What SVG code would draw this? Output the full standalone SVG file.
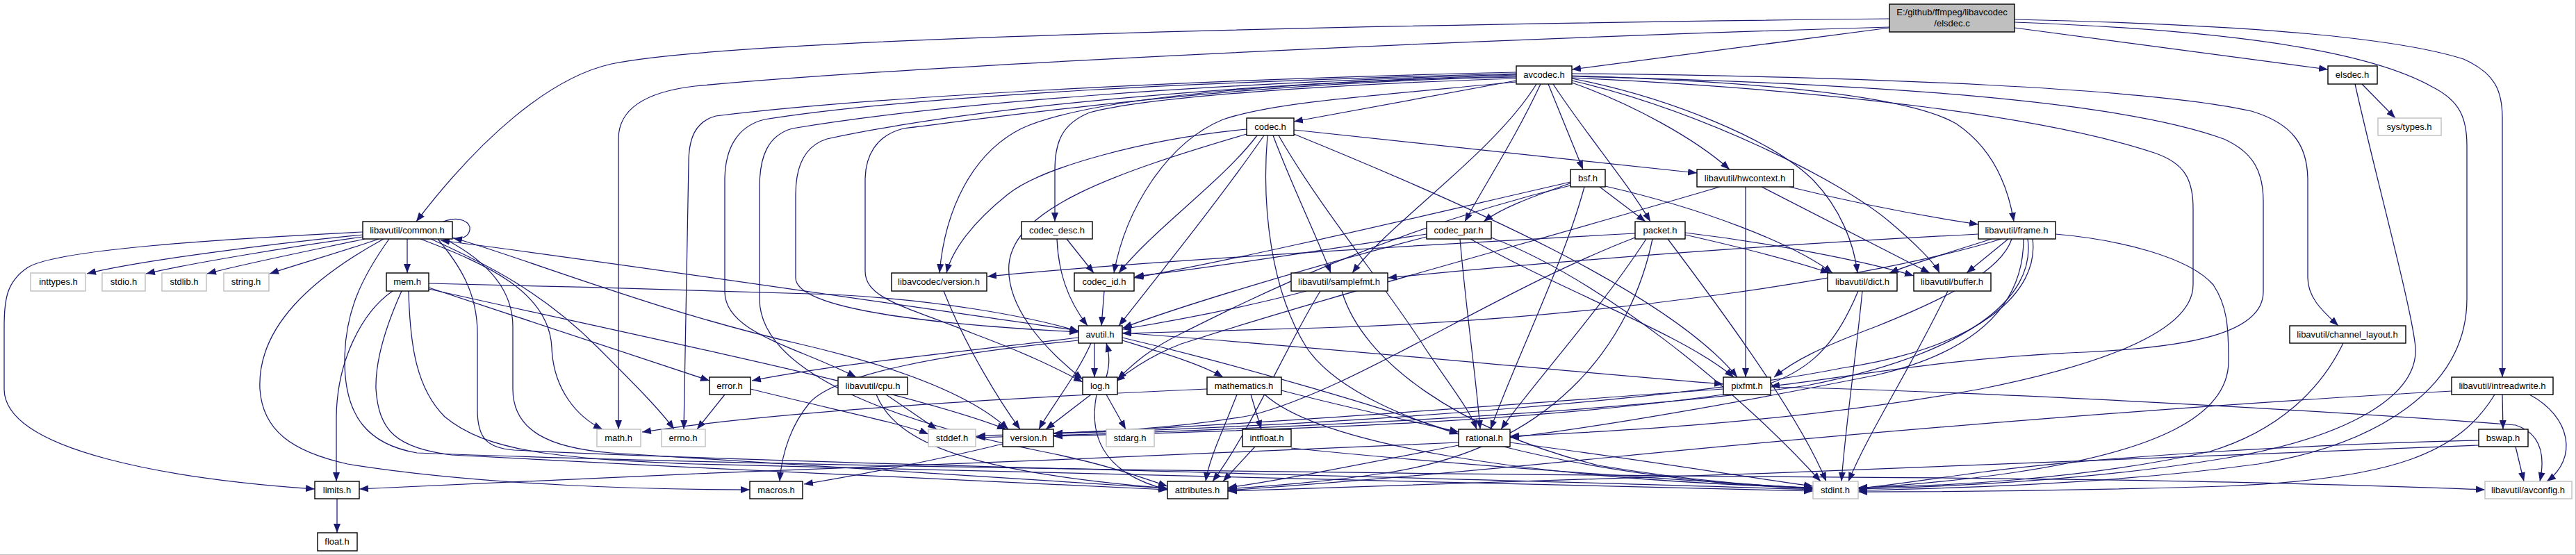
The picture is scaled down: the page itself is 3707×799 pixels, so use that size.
<svg xmlns="http://www.w3.org/2000/svg" width="3707" height="799" viewBox="0 0 3707 799">
<defs>
<marker id="a" viewBox="0 0 13 10" refX="13" refY="5" markerWidth="13" markerHeight="10" markerUnits="userSpaceOnUse" orient="auto"><path d="M0,0 L13,5 L0,10 z" fill="#191970"/></marker>
<style>
.nd rect{fill:#fff;stroke:#000;stroke-width:1.4}
.ext rect{fill:#fff;stroke:#bfbfbf;stroke-width:1.4}
.root rect{fill:#bfbfbf;stroke:#000;stroke-width:1.4}
text{font-family:"Liberation Sans",Arial,sans-serif;font-size:13px;text-anchor:middle;fill:#000}
#edges path{fill:none;stroke:#191970;stroke-width:1.25;marker-end:url(#a)}
</style>
</defs>
<rect x="0" y="0" width="3707" height="799" fill="#fff"/>
<path d="M0,798.5 H3706.5 V0" fill="none" stroke="#c0c0c0" stroke-width="1"/>
<g id="edges">
<path d="M2719,27 C1900,36 1050,56 880,92 C790,112 690,200 599,319"/>
<path d="M2719,39 C2000,60 1250,100 1000,124 C915,134 890,165 890,200 L890,618"/>
<path d="M2719,40 L2262,100"/>
<path d="M2899,40 L3350,100"/>
<path d="M2899,28 C3250,36 3450,55 3545,85 C3590,105 3601,130 3601,170 L3601,543"/>
<path d="M2899,32 C3250,45 3420,80 3500,125 C3540,145 3550,170 3550,210 L3550,430 C3550,560 3420,640 3250,668 C3050,695 2850,702 2674,706"/>
<path d="M3399,121 L3447,170"/>
<path d="M3389,121 C3420,260 3470,440 3476,500 C3480,570 3380,630 3200,660 C3020,690 2830,700 2674,704"/>
<path d="M2182,116 L1862,175"/>
<path d="M2182,113 C1900,122 1650,140 1568,162 C1528,178 1518,205 1518,245 L1518,319"/>
<path d="M2182,110 C1900,116 1580,135 1470,185 C1400,220 1360,300 1352,393"/>
<path d="M2182,118 C1950,140 1830,148 1760,172 C1680,205 1620,300 1603,393"/>
<path d="M2211,121 C2150,220 2000,320 1946,393"/>
<path d="M2217,121 C2180,200 2140,260 2108,319"/>
<path d="M2228,121 L2278,244"/>
<path d="M2235,121 C2280,190 2340,260 2375,319"/>
<path d="M2262,119 C2350,150 2440,200 2489,244"/>
<path d="M2262,109 C2550,118 2750,140 2815,178 C2870,215 2890,270 2898,319"/>
<path d="M2262,113 C2400,140 2550,200 2610,260 C2648,300 2668,350 2673,393"/>
<path d="M2262,116 C2450,160 2650,260 2720,320 C2758,352 2785,380 2791,393"/>
<path d="M2262,106 C2700,110 3100,128 3240,160 C3300,178 3321,210 3321,260 L3321,400 C3321,430 3345,450 3365,469"/>
<path d="M2262,110 C2700,120 3050,145 3200,200 C3245,220 3257,250 3257,290 L3257,420 C3257,480 3150,500 3000,507 C2800,515 2650,545 2548,556"/>
<path d="M2262,112 C2650,130 2950,170 3100,220 C3145,235 3156,260 3156,300 L3156,410 C3156,470 3050,520 2850,560 C2600,605 2350,620 2173,628"/>
<path d="M2182,104 C1700,115 1250,140 1030,167 C1000,175 991,200 991,235 L984,618"/>
<path d="M2182,106 C1700,118 1300,140 1100,172 C1060,182 1043,215 1043,260 L1043,420 C1043,480 1150,500 1232,543"/>
<path d="M2182,107 C1720,120 1350,150 1140,185 C1105,195 1093,225 1093,270 L1093,430 C1093,540 1300,610 1500,650 C1600,670 1650,690 1680,700"/>
<path d="M2182,108 C1750,122 1400,155 1190,200 C1158,210 1145,240 1145,280 L1145,400 C1145,440 1300,465 1552,478"/>
<path d="M2182,111 C1800,118 1500,160 1300,185 C1260,195 1245,225 1245,260 L1245,390 C1245,430 1300,440 1400,480 C1480,510 1520,530 1558,550"/>
<path d="M1794,186 C1650,200 1500,240 1450,280 C1400,320 1370,360 1362,393"/>
<path d="M1794,193 C1600,250 1460,300 1452,380 C1447,440 1500,500 1558,546"/>
<path d="M1809,195 C1760,260 1660,330 1610,393"/>
<path d="M1819,195 C1760,280 1680,380 1610,469"/>
<path d="M1832,195 C1860,270 1895,340 1915,393"/>
<path d="M1840,195 C1900,300 2000,420 2050,500 C2090,560 2115,590 2125,618"/>
<path d="M1824,195 C1815,300 1830,420 1880,500 C1960,620 2300,690 2609,704"/>
<path d="M1862,193 C2100,290 2400,420 2500,543"/>
<path d="M1862,187 L2442,249"/>
<path d="M2262,263 C2200,285 2160,300 2135,319"/>
<path d="M2302,269 L2368,319"/>
<path d="M2310,268 C2450,300 2580,350 2637,393"/>
<path d="M2280,269 C2250,380 2180,520 2145,618"/>
<path d="M2260,262 C2050,310 1800,370 1632,400"/>
<path d="M2260,267 C2000,330 1800,430 1700,480 C1650,505 1630,525 1608,546"/>
<path d="M2575,269 C2660,290 2760,310 2847,323"/>
<path d="M2535,269 L2777,393"/>
<path d="M2512,269 L2512,543"/>
<path d="M2475,269 C2200,350 1900,430 1700,495 C1660,510 1630,530 1606,549"/>
<path d="M638,319 C662,310 678,320 676,331 C674,341 664,345 652,343"/>
<path d="M522,338 C400,350 200,375 125,394"/>
<path d="M522,341 C420,355 280,378 210,394"/>
<path d="M525,344 C450,360 350,380 298,394"/>
<path d="M545,344 C500,360 430,380 388,394"/>
<path d="M586,344 L586,393"/>
<path d="M522,334 C300,345 80,360 40,385 C10,405 6,430 6,470 L6,560 C6,650 250,690 453,704"/>
<path d="M552,344 C450,400 370,470 374,560 C378,620 420,650 500,668 C700,700 950,705 1079,705"/>
<path d="M605,344 C700,380 790,420 794,500 C796,560 830,600 867,618"/>
<path d="M620,344 C700,380 780,420 860,500 C910,550 950,590 970,618"/>
<path d="M630,344 C660,380 687,420 687,480 L687,590 C687,630 700,645 740,648 C1200,670 2200,690 2609,705"/>
<path d="M640,344 C690,370 738,410 738,470 L738,560 C738,620 790,645 880,652 C1200,672 1500,690 1680,703"/>
<path d="M651,342 C750,370 950,450 1150,495 C1300,530 1400,570 1451,618"/>
<path d="M560,344 C520,400 496,450 496,520 C496,600 530,640 600,652 C1200,675 2200,684 2800,688 C3200,692 3450,700 3576,705"/>
<path d="M565,419 C520,450 485,520 484,600 L484,693"/>
<path d="M617,414 L1021,548"/>
<path d="M617,408 C800,412 1100,420 1200,424 C1350,432 1480,455 1552,477"/>
<path d="M588,419 C590,500 600,560 640,600 C700,650 800,660 1000,668 C1600,685 2200,695 2609,707"/>
<path d="M578,419 C555,470 540,520 541,560 C545,620 570,645 650,655 C1000,675 1400,690 1680,705"/>
<path d="M617,416 C900,480 1300,560 1448,618"/>
<path d="M1535,344 L1574,393"/>
<path d="M1521,344 C1523,390 1535,430 1565,469"/>
<path d="M2053,337 C1900,360 1750,385 1633,398"/>
<path d="M2053,341 C1900,380 1700,440 1616,472"/>
<path d="M2101,344 C2110,450 2125,550 2130,618"/>
<path d="M2116,344 C2250,420 2420,480 2495,543"/>
<path d="M2146,342 C2300,400 2500,560 2620,693"/>
<path d="M2353,336 C2000,355 1600,380 1421,398"/>
<path d="M2425,338 C2500,355 2580,375 2633,393"/>
<path d="M2425,335 C2550,350 2680,375 2754,397"/>
<path d="M2400,344 C2480,450 2590,600 2628,693"/>
<path d="M2369,344 C2300,450 2200,560 2160,618"/>
<path d="M2378,344 C2350,480 2250,640 2000,680 C1900,695 1820,700 1767,704"/>
<path d="M2353,342 C2150,420 1950,560 1800,598 C1650,625 1500,622 1405,628"/>
<path d="M2866,344 C2800,365 2750,380 2719,393"/>
<path d="M2890,344 L2830,393"/>
<path d="M2847,337 C2500,355 2200,380 1997,400"/>
<path d="M2880,344 C2700,400 2300,460 1900,472 C1750,476 1660,478 1615,480"/>
<path d="M2895,344 C2880,390 2800,430 2700,470 C2620,500 2580,520 2553,543"/>
<path d="M2912,344 C2912,420 2870,500 2700,540 C2500,580 2300,615 2173,630"/>
<path d="M2925,344 C2935,420 2850,500 2650,530 C2450,570 2000,610 1516,624"/>
<path d="M2918,344 C2930,430 2830,510 2600,555 C2300,600 1700,622 1405,630"/>
<path d="M2958,337 C3050,345 3150,370 3185,410 C3205,440 3207,470 3207,520 C3207,600 3100,650 2900,680 C2800,695 2720,700 2674,703"/>
<path d="M1880,419 C1800,440 1700,460 1615,474"/>
<path d="M1931,419 C1960,520 2100,620 2300,670 C2450,695 2550,700 2609,703"/>
<path d="M1900,419 C1850,500 1800,620 1745,693"/>
<path d="M2680,419 C2670,520 2655,620 2650,693"/>
<path d="M2674,419 C2640,500 2600,545 2500,565 C2200,610 1800,620 1516,628"/>
<path d="M2803,419 C2750,530 2690,620 2660,693"/>
<path d="M1552,476 C1300,440 900,380 634,346"/>
<path d="M1552,486 C1350,510 1200,525 1082,548"/>
<path d="M1552,490 C1350,510 1200,540 1165,580 C1140,610 1125,650 1122,693"/>
<path d="M1570,494 C1550,540 1510,590 1495,618"/>
<path d="M1575,494 L1575,543"/>
<path d="M1615,490 C1680,510 1730,525 1760,543"/>
<path d="M1615,486 C1800,530 2000,590 2099,625"/>
<path d="M1615,479 C1900,500 2200,530 2480,553"/>
<path d="M1592,543 C1597,525 1597,512 1592,494"/>
<path d="M1592,568 L1620,618"/>
<path d="M1570,568 L1505,618"/>
<path d="M1578,568 C1568,620 1580,680 1680,705"/>
<path d="M1737,560 C1400,575 1100,595 924,622"/>
<path d="M1800,568 L1815,618"/>
<path d="M1780,568 C1760,620 1740,660 1735,693"/>
<path d="M1844,562 C1950,590 2050,610 2099,622"/>
<path d="M1820,568 C1900,640 2200,690 2609,702"/>
<path d="M2548,557 C2900,565 3400,595 3620,612 C3660,625 3662,660 3655,693"/>
<path d="M2480,560 C2200,580 1800,612 1516,624"/>
<path d="M3601,568 L3602,618"/>
<path d="M3640,568 C3700,600 3710,660 3665,693"/>
<path d="M3590,568 C3540,650 3450,690 3200,700 C3000,706 2800,708 2674,708"/>
<path d="M3528,563 C3200,580 2700,620 2300,660 C2000,690 1850,700 1767,706"/>
<path d="M1443,639 C1350,662 1230,685 1157,697"/>
<path d="M1806,643 L1760,693"/>
<path d="M1858,645 C2100,670 2400,690 2609,703"/>
<path d="M2173,637 C2350,660 2500,685 2609,700"/>
<path d="M2099,637 C1800,650 1300,672 1000,682 C800,690 600,700 517,704"/>
<path d="M2099,641 C1950,670 1850,690 1767,702"/>
<path d="M3620,643 L3632,693"/>
<path d="M3567,634 C3300,640 3000,660 2850,680 C2760,692 2710,700 2674,703"/>
<path d="M3567,641 C3200,660 2300,690 1767,707"/>
<path d="M3372,494 C3340,560 3280,620 3180,650 C3000,690 2800,700 2674,702"/>
<path d="M1358,419 C1390,500 1440,580 1468,618"/>
<path d="M1589,419 L1585,469"/>
<path d="M1043,568 L1003,618"/>
<path d="M1080,560 C1200,590 1300,610 1336,625"/>
<path d="M1275,568 L1348,618"/>
<path d="M1261,568 C1290,640 1400,680 1680,703"/>
<path d="M485,718 L485,767"/>
</g>
<g id="n_elsdec_c" class="root"><rect x="2719" y="6" width="180" height="40"/><text x="2809" y="22">E:/github/ffmpeg/libavcodec</text><text x="2809" y="38">/elsdec.c</text></g>
<g id="n_avcodec" class="nd"><rect x="2182" y="95" width="80" height="26"/><text x="2222" y="112">avcodec.h</text></g>
<g id="n_elsdec_h" class="nd"><rect x="3350" y="95" width="71" height="26"/><text x="3385" y="112">elsdec.h</text></g>
<g id="n_codec" class="nd"><rect x="1794" y="170" width="68" height="25"/><text x="1828" y="187">codec.h</text></g>
<g id="n_systypes" class="ext"><rect x="3422" y="170" width="91" height="25"/><text x="3467" y="187">sys/types.h</text></g>
<g id="n_bsf" class="nd"><rect x="2260" y="244" width="50" height="25"/><text x="2285" y="261">bsf.h</text></g>
<g id="n_hwcontext" class="nd"><rect x="2442" y="244" width="139" height="25"/><text x="2511" y="261">libavutil/hwcontext.h</text></g>
<g id="n_common" class="nd"><rect x="522" y="319" width="129" height="25"/><text x="586" y="336">libavutil/common.h</text></g>
<g id="n_codec_desc" class="nd"><rect x="1470" y="319" width="102" height="25"/><text x="1521" y="336">codec_desc.h</text></g>
<g id="n_codec_par" class="nd"><rect x="2053" y="319" width="93" height="25"/><text x="2099" y="336">codec_par.h</text></g>
<g id="n_packet" class="nd"><rect x="2353" y="319" width="72" height="25"/><text x="2389" y="336">packet.h</text></g>
<g id="n_frame" class="nd"><rect x="2847" y="319" width="111" height="25"/><text x="2902" y="336">libavutil/frame.h</text></g>
<g id="n_inttypes" class="ext"><rect x="44" y="393" width="79" height="26"/><text x="84" y="410">inttypes.h</text></g>
<g id="n_stdio" class="ext"><rect x="147" y="393" width="62" height="26"/><text x="178" y="410">stdio.h</text></g>
<g id="n_stdlib" class="ext"><rect x="233" y="393" width="64" height="26"/><text x="265" y="410">stdlib.h</text></g>
<g id="n_string" class="ext"><rect x="322" y="393" width="65" height="26"/><text x="354" y="410">string.h</text></g>
<g id="n_mem" class="nd"><rect x="556" y="393" width="61" height="26"/><text x="586" y="410">mem.h</text></g>
<g id="n_lavc_version" class="nd"><rect x="1283" y="393" width="137" height="26"/><text x="1351" y="410">libavcodec/version.h</text></g>
<g id="n_codec_id" class="nd"><rect x="1546" y="393" width="86" height="26"/><text x="1589" y="410">codec_id.h</text></g>
<g id="n_samplefmt" class="nd"><rect x="1858" y="393" width="139" height="26"/><text x="1927" y="410">libavutil/samplefmt.h</text></g>
<g id="n_dict" class="nd"><rect x="2630" y="393" width="100" height="26"/><text x="2680" y="410">libavutil/dict.h</text></g>
<g id="n_buffer" class="nd"><rect x="2754" y="393" width="111" height="26"/><text x="2809" y="410">libavutil/buffer.h</text></g>
<g id="n_avutil" class="nd"><rect x="1552" y="469" width="63" height="25"/><text x="1583" y="486">avutil.h</text></g>
<g id="n_channel_layout" class="nd"><rect x="3295" y="469" width="167" height="25"/><text x="3378" y="486">libavutil/channel_layout.h</text></g>
<g id="n_error" class="nd"><rect x="1021" y="543" width="59" height="25"/><text x="1050" y="560">error.h</text></g>
<g id="n_cpu" class="nd"><rect x="1206" y="543" width="100" height="25"/><text x="1256" y="560">libavutil/cpu.h</text></g>
<g id="n_log" class="nd"><rect x="1558" y="543" width="50" height="25"/><text x="1583" y="560">log.h</text></g>
<g id="n_mathematics" class="nd"><rect x="1737" y="543" width="107" height="25"/><text x="1790" y="560">mathematics.h</text></g>
<g id="n_pixfmt" class="nd"><rect x="2480" y="543" width="68" height="25"/><text x="2514" y="560">pixfmt.h</text></g>
<g id="n_intreadwrite" class="nd"><rect x="3528" y="543" width="146" height="25"/><text x="3601" y="560">libavutil/intreadwrite.h</text></g>
<g id="n_math" class="ext"><rect x="859" y="618" width="63" height="25"/><text x="890" y="635">math.h</text></g>
<g id="n_errno" class="ext"><rect x="952" y="618" width="63" height="25"/><text x="983" y="635">errno.h</text></g>
<g id="n_stddef" class="ext"><rect x="1336" y="618" width="68" height="25"/><text x="1370" y="635">stddef.h</text></g>
<g id="n_version" class="nd"><rect x="1443" y="618" width="73" height="25"/><text x="1480" y="635">version.h</text></g>
<g id="n_stdarg" class="ext"><rect x="1592" y="618" width="69" height="25"/><text x="1626" y="635">stdarg.h</text></g>
<g id="n_intfloat" class="nd"><rect x="1788" y="618" width="70" height="25"/><text x="1823" y="635">intfloat.h</text></g>
<g id="n_rational" class="nd"><rect x="2099" y="618" width="74" height="25"/><text x="2136" y="635">rational.h</text></g>
<g id="n_bswap" class="nd"><rect x="3567" y="618" width="71" height="25"/><text x="3602" y="635">bswap.h</text></g>
<g id="n_limits" class="nd"><rect x="453" y="693" width="64" height="25"/><text x="485" y="710">limits.h</text></g>
<g id="n_macros" class="nd"><rect x="1079" y="693" width="76" height="25"/><text x="1117" y="710">macros.h</text></g>
<g id="n_attributes" class="nd"><rect x="1680" y="693" width="87" height="25"/><text x="1723" y="710">attributes.h</text></g>
<g id="n_stdint" class="ext"><rect x="2609" y="693" width="65" height="25"/><text x="2641" y="710">stdint.h</text></g>
<g id="n_avconfig" class="ext"><rect x="3576" y="693" width="125" height="25"/><text x="3638" y="710">libavutil/avconfig.h</text></g>
<g id="n_float" class="nd"><rect x="457" y="767" width="57" height="26"/><text x="485" y="784">float.h</text></g>
</svg>
